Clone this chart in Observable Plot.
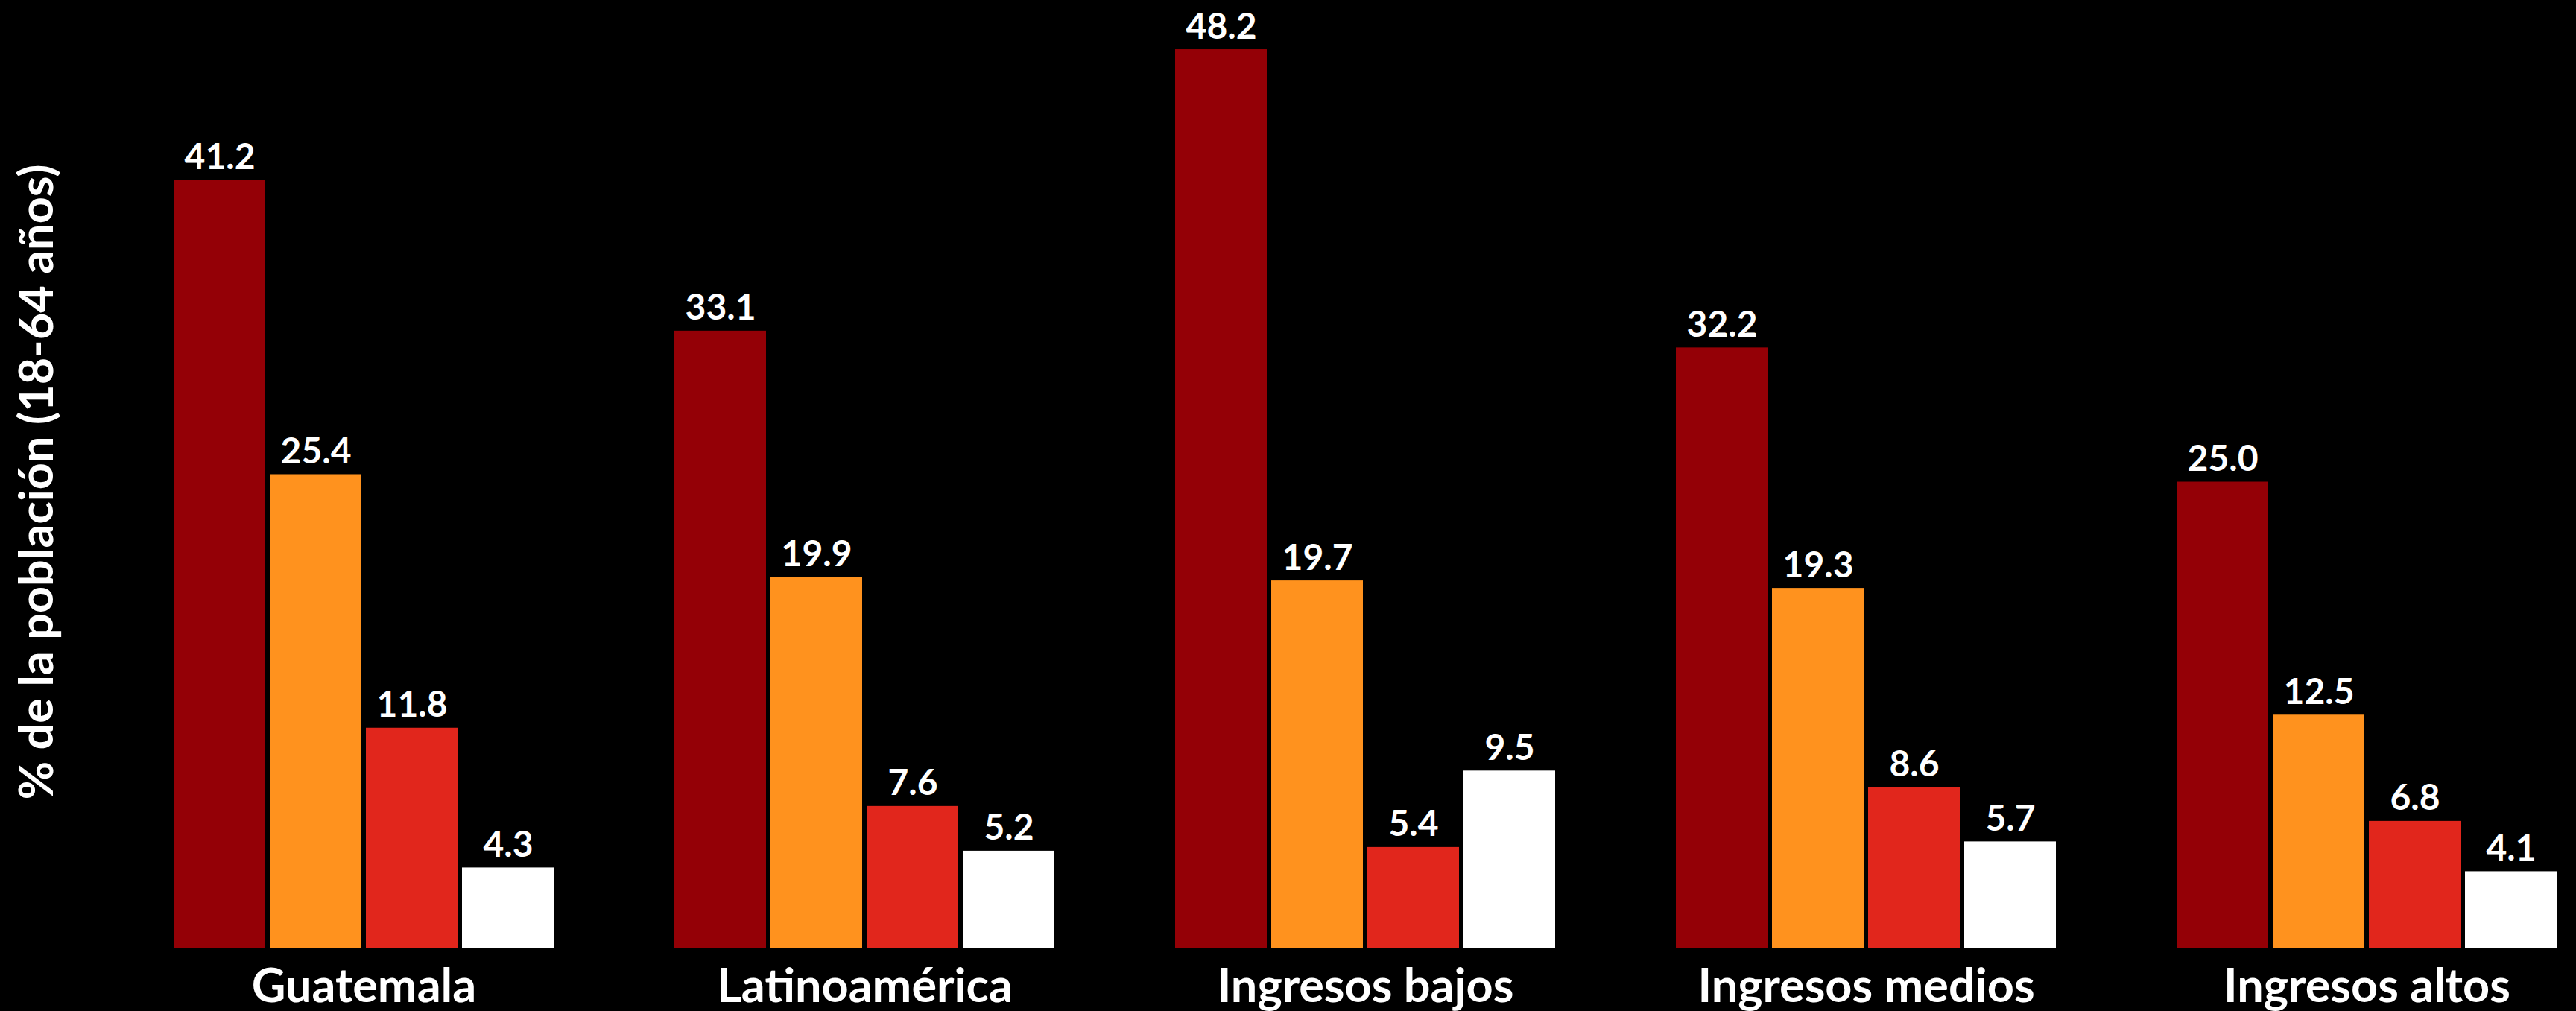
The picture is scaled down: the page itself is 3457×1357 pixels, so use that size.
<!DOCTYPE html>
<html>
<head>
<meta charset="utf-8">
<script src="https://cdn.jsdelivr.net/npm/d3@7"></script>
<script src="https://cdn.jsdelivr.net/npm/@observablehq/plot@0.6"></script>
<style>
  html, body { margin: 0; padding: 0; background: #000; }
  #chart svg { display: block; }
</style>
</head>
<body>
<div id="chart"></div>
<script>
const groups = ["Guatemala", "Latinoamérica", "Ingresos bajos", "Ingresos medios", "Ingresos altos"];
const series = ["Serie 1", "Serie 2", "Serie 3", "Serie 4"];
const serie1 = [41.2, 33.1, 48.2, 32.2, 25.0];
const serie2 = [25.4, 19.9, 19.7, 19.3, 12.5];
const serie3 = [11.8, 7.6, 5.4, 8.6, 6.8];
const serie4 = [4.3, 5.2, 9.5, 5.7, 4.1];
const colors = ["#940006", "#FF921E", "#E1261C", "#FFFFFF"];
const yLabel = "% de la población (18-64 años)";

const seriesValues = [serie1, serie2, serie3, serie4];
const table = [];
groups.forEach((g, gi) => {
  series.forEach((s, si) => {
    table.push({group: g, serie: s, value: seriesValues[si][gi]});
  });
});

const chart = Plot.plot({
  width: 3457,
  height: 1357,
  marginLeft: 232,
  marginRight: 24,
  marginTop: 21,
  marginBottom: 85,
  style: {background: "#000", color: "#fff", fontFamily: "Lato, 'Open Sans', sans-serif"},
  fx: {domain: groups, paddingInner: 0.238, paddingOuter: 0, label: null},
  x: {domain: series, paddingInner: 0.046, paddingOuter: 0, axis: null},
  y: {domain: [0, 50], label: yLabel},
  color: {domain: series, range: colors},
  marks: [
    Plot.barY(table, {fx: "group", x: "serie", y: "value", fill: "serie"}),
    Plot.text(table, {fx: "group", x: "serie", y: "value", text: d => d.value.toFixed(1),
      lineAnchor: "bottom", dy: -15, fill: "#fff", fontSize: 48, fontWeight: "bold"}),
    Plot.axisFx({anchor: "bottom", tickSize: 0, tickPadding: 28, fontSize: 63, fontWeight: "bold", label: null}),
    Plot.axisY({ticks: [], tickSize: 0, label: yLabel, labelAnchor: "center", labelArrow: "none",
      labelOffset: 206, fontSize: 63, fontWeight: "bold"})
  ]
});
document.getElementById("chart").appendChild(chart);
</script>
</body>
</html>
